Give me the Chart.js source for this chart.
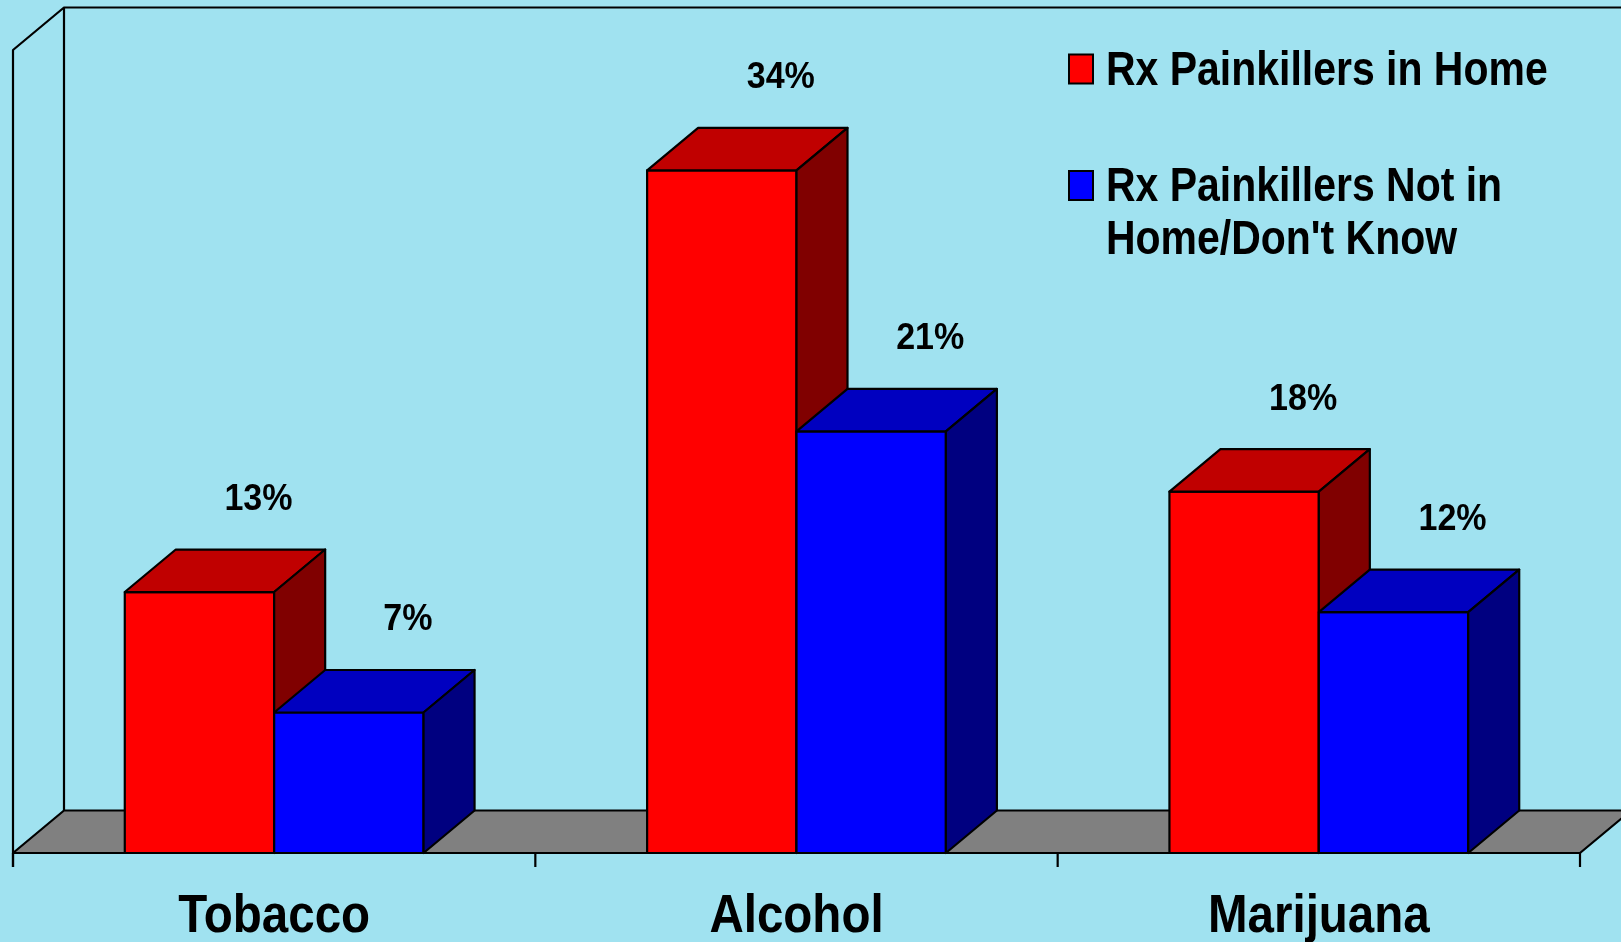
<!DOCTYPE html>
<html>
<head>
<meta charset="utf-8">
<script src="https://cdn.jsdelivr.net/npm/chart.js@4.4.1/dist/chart.umd.min.js"></script>
<style>
  html, body { margin: 0; padding: 0; overflow: hidden; background: #a0e2f0; }
  canvas { display: block; }
</style>
</head>
<body>
<canvas id="myChart" width="1621" height="942"></canvas>
<script>
const categories = ['Tobacco', 'Alcohol', 'Marijuana'];
const inHome = [13, 34, 18];
const notInHome = [7, 21, 12];
const legendLines = [
  ['Rx Painkillers in Home'],
  ['Rx Painkillers Not in', "Home/Don't Know"],
];

const FONT = '"Liberation Sans", Arial, Helvetica, sans-serif';
const BG = '#a0e2f0';
const DX = 51;
const DY = 42.5;

// front / top / side shades for each series
const shades = [
  { front: '#ff0000', top: '#c00000', side: '#800000' },
  { front: '#0000ff', top: '#0000c0', side: '#000080' },
];

function squeezedText(ctx, text, x, y, size, sx, align) {
  ctx.save();
  ctx.font = `bold ${size}px ${FONT}`;
  ctx.textAlign = align;
  ctx.textBaseline = 'alphabetic';
  ctx.fillStyle = '#000';
  ctx.translate(x, y);
  ctx.scale(sx, 1);
  ctx.fillText(text, 0, 0);
  ctx.restore();
}

function poly(ctx, pts, fill) {
  ctx.beginPath();
  ctx.moveTo(pts[0][0], pts[0][1]);
  for (let i = 1; i < pts.length; i++) ctx.lineTo(pts[i][0], pts[i][1]);
  ctx.closePath();
  if (fill) {
    ctx.fillStyle = fill;
    ctx.fill();
  }
  ctx.stroke();
}

const scene3d = {
  id: 'scene3d',
  beforeDraw(chart) {
    const ctx = chart.ctx;
    ctx.save();
    ctx.fillStyle = BG;
    ctx.fillRect(0, 0, chart.width, chart.height);
    ctx.restore();
  },
  beforeDatasetsDraw(chart) {
    const ctx = chart.ctx;
    const a = chart.chartArea;
    const x = chart.scales.x;
    const band = (a.right - a.left) / categories.length;

    ctx.save();
    ctx.strokeStyle = '#000';
    ctx.lineWidth = 2.2;
    ctx.lineJoin = 'round';

    // back wall + side wall
    ctx.beginPath();
    ctx.moveTo(chart.width + 5, a.top - DY);
    ctx.lineTo(a.left + DX, a.top - DY);
    ctx.lineTo(a.left + DX, a.bottom - DY);
    ctx.moveTo(a.left + DX, a.top - DY);
    ctx.lineTo(a.left, a.top);
    ctx.lineTo(a.left, a.bottom + 14);
    ctx.stroke();

    // floor
    poly(ctx, [
      [a.left, a.bottom], [a.right, a.bottom],
      [a.right + DX, a.bottom - DY], [a.left + DX, a.bottom - DY],
    ], '#808080');

    // category ticks
    ctx.beginPath();
    for (let k = 0; k <= categories.length; k++) {
      const tx = x.getPixelForValue(0) - band / 2 + k * band;
      ctx.moveTo(tx, a.bottom);
      ctx.lineTo(tx, a.bottom + 14);
    }
    ctx.stroke();

    // bars, drawn left to right so the faces overlap properly
    const metas = chart.data.datasets.map((_, d) => chart.getDatasetMeta(d));
    for (let i = 0; i < categories.length; i++) {
      metas.forEach((meta, d) => {
        const el = meta.data[i].getProps(['x', 'y', 'base', 'width'], true);
        const l = el.x - el.width / 2;
        const r = el.x + el.width / 2;
        const t = el.y;
        const b = el.base;
        const c = shades[d];
        poly(ctx, [[l, t], [r, t], [r, b], [l, b]], c.front);
        poly(ctx, [[l, t], [l + DX, t - DY], [r + DX, t - DY], [r, t]], c.top);
        poly(ctx, [[r, t], [r + DX, t - DY], [r + DX, b - DY], [r, b]], c.side);
      });
    }

    // value labels
    metas.forEach((meta, d) => {
      const values = chart.data.datasets[d].data;
      meta.data.forEach((el, i) => {
        squeezedText(ctx, values[i] + '%', el.x + 59, el.y - 82, 37, 0.92, 'center');
      });
    });

    // category labels
    categories.forEach((c, i) => {
      squeezedText(ctx, c, x.getPixelForValue(i), 932, 54, 0.88, 'center');
    });

    ctx.restore();
    return false;
  },
  afterDraw(chart) {
    const ctx = chart.ctx;
    const firstBaselines = [84.5, 201];
    ctx.save();
    ctx.strokeStyle = '#000';
    ctx.lineWidth = 2;
    legendLines.forEach((lines, d) => {
      const base = firstBaselines[d];
      ctx.fillStyle = shades[d].front;
      ctx.fillRect(1069, base - 30, 24, 29);
      ctx.strokeRect(1069, base - 30, 24, 29);
      lines.forEach((line, j) => {
        squeezedText(ctx, line, 1106, base + j * 53.3, 49, 0.836, 'left');
      });
    });
    ctx.restore();
  },
};

new Chart(document.getElementById('myChart'), {
  type: 'bar',
  data: {
    labels: categories,
    datasets: [
      { label: legendLines[0].join(' '), data: inHome, backgroundColor: shades[0].front },
      { label: legendLines[1].join(' '), data: notInHome, backgroundColor: shades[1].front },
    ],
  },
  options: {
    responsive: false,
    animation: false,
    categoryPercentage: 0.572,
    barPercentage: 1,
    layout: {
      padding: { left: 13, top: 50, right: 41, bottom: 89 },
    },
    scales: {
      x: { display: false },
      y: { display: false, min: 0, max: 40 },
    },
    plugins: {
      legend: { display: false },
      tooltip: { enabled: false },
    },
  },
  plugins: [scene3d],
});
</script>
</body>
</html>
